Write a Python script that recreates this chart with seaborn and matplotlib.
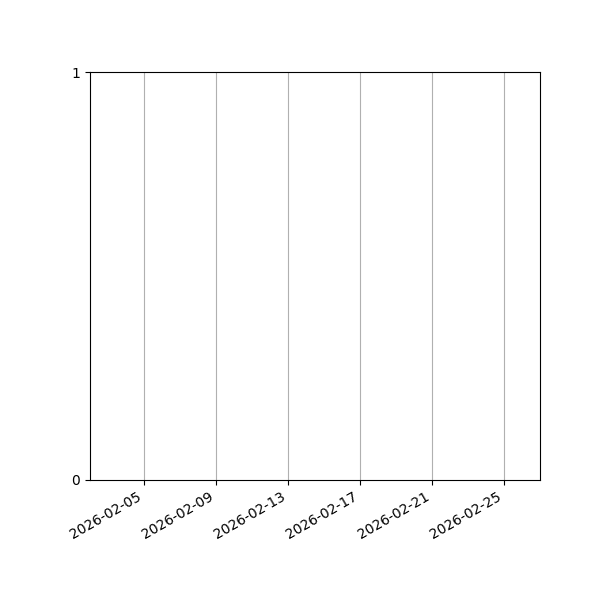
import pandas as pd
import numpy as np
import matplotlib
matplotlib.use("Agg")
import matplotlib.pyplot as plt
import matplotlib.dates as mdates
import seaborn as sns

# visible date range of the (empty) timeline
range_dates = ["2026-02-02", "2026-02-27"]
tick_dates = ["2026-02-05", "2026-02-09", "2026-02-13",
              "2026-02-17", "2026-02-21", "2026-02-25"]
y_ticks = [0, 1]

df = pd.DataFrame({"date": pd.to_datetime([]), "value": pd.Series([], dtype=float)})

fig, ax = plt.subplots(figsize=(6, 6), dpi=100)
sns.lineplot(data=df, x="date", y="value", ax=ax)

ax.set_xlim(pd.to_datetime(range_dates[0]), pd.to_datetime(range_dates[1]))
ax.set_xticks(pd.to_datetime(tick_dates))
ax.xaxis.set_major_formatter(mdates.DateFormatter("%Y-%m-%d"))
ax.set_ylim(0, 1)
ax.set_yticks(y_ticks)
ax.set_xlabel("")
ax.set_ylabel("")
ax.grid(True, axis="x")

fig.autofmt_xdate()
fig.subplots_adjust(left=0.15, right=0.9, top=0.88, bottom=0.2)
fig.savefig("out.png", dpi=100)
